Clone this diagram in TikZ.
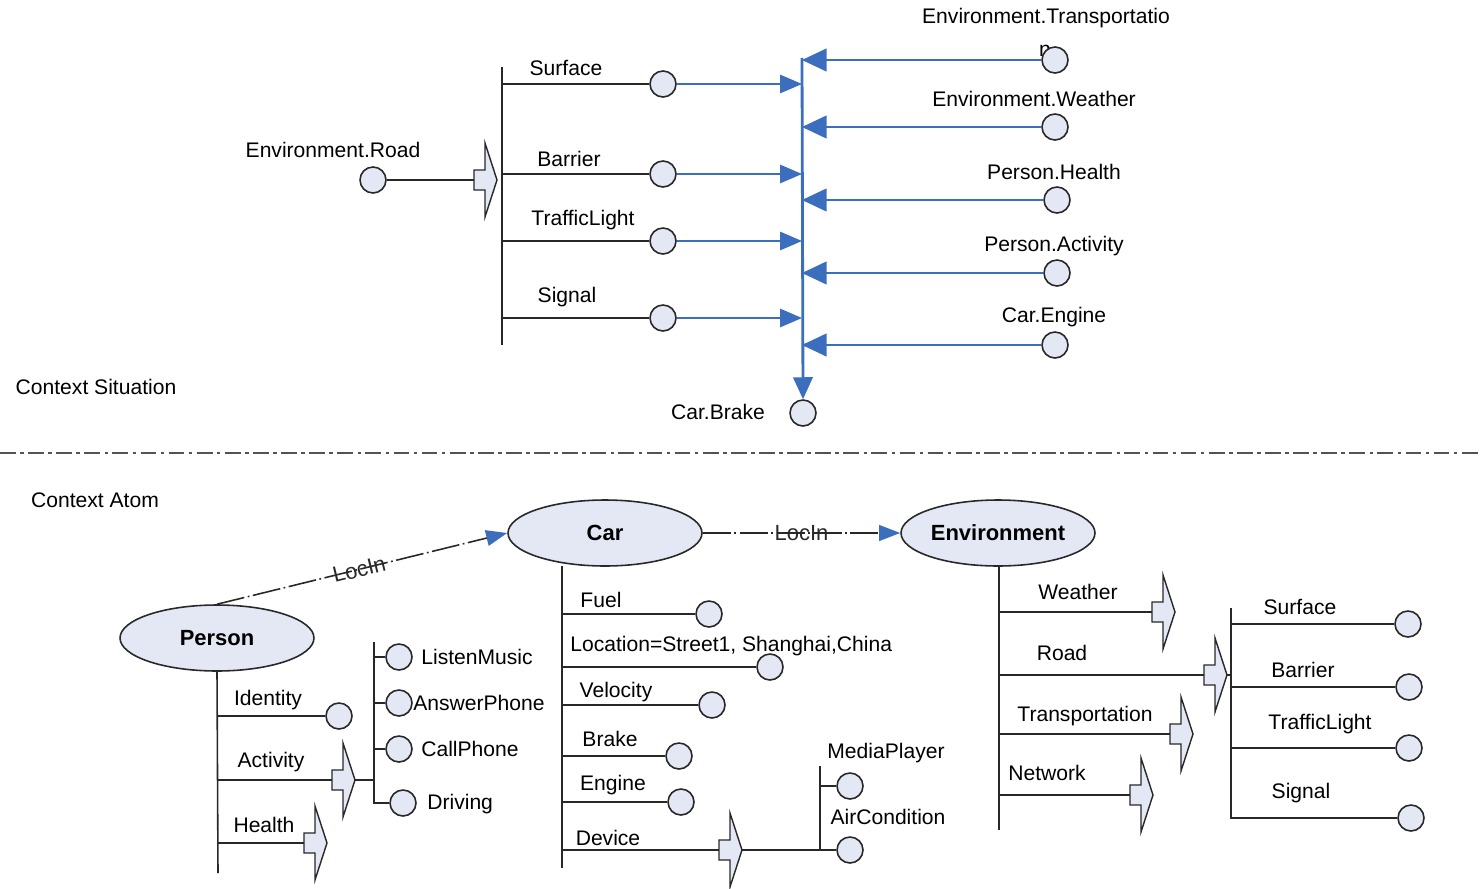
\documentclass[tikz,border=0pt]{standalone}
\usepackage{fontspec}
\setmainfont{Liberation Sans}
\usepackage{tikz}
\usetikzlibrary{positioning,shapes.geometric,arrows.meta}
\definecolor{atomfill}{RGB}{228,232,244}
\definecolor{linkblue}{RGB}{60,110,190}
\definecolor{ink}{RGB}{40,40,40}
\tikzset{
  ctx/.style={circle, draw=ink, fill=atomfill, minimum size=0.52cm, inner sep=0pt, line width=0.9pt},
  atom/.style={ellipse, draw=ink, fill=atomfill, minimum width=3.88cm, minimum height=1.32cm, inner sep=0pt, font=\fontsize{12.5}{14}\selectfont\bfseries, line width=0.9pt},
  lbl/.style={inner sep=0pt, font=\fontsize{12}{14}\selectfont},
  bar/.style={ink, line width=0.9pt},
  feed/.style={linkblue, line width=0.9pt, -{Triangle[length=12.5pt,width=10.5pt]}},
  back/.style={linkblue, line width=0.9pt, -{Triangle[length=14pt,width=13pt]}},
  locin/.style={ink, line width=0.9pt, dash pattern=on 16pt off 2pt on 1pt off 2pt, -{Triangle[length=12pt,width=9pt,color=linkblue]}},
  blockarr/.pic={
    \filldraw[fill=atomfill, draw=ink, line width=0.8pt] (-23,-10) -- (-12,-10) -- (-12,-37) -- (0,0) -- (-12,37) -- (-12,10) -- (-23,10) -- cycle;
    \coordinate (-back) at (-23,0);
    \coordinate (-tip) at (0,0);
  }
}
\begin{document}
\begin{tikzpicture}[x=0.02cm, y=-0.02cm]
 \useasboundingbox (0,0) rectangle (1481,889);
 % context situation
 \node[lbl] (csit) at (96,387) {Context Situation};
 \node[ctx] (road) at (373,180) {};
 \node[lbl] (lroad) at (333,150) {Environment.Road};
 \pic (ra) at (497,180) {blockarr};
 \draw[bar] (road) -- (ra-back);
 \coordinate (rtop) at (502,67);
 \coordinate (rbot) at (502,345);
 \draw[bar] (rtop) -- (rbot);
 \node[ctx] (sf) at (663,84) {};
 \node[ctx] (br) at (663,174) {};
 \node[ctx] (tl) at (663,241) {};
 \node[ctx] (sg) at (663,318) {};
 \draw[bar] (sf -| rtop) -- (sf);
 \draw[bar] (br -| rtop) -- (br);
 \draw[bar] (tl -| rtop) -- (tl);
 \draw[bar] (sg -| rtop) -- (sg);
 \node[lbl] (lsf) at (566,68) {Surface};
 \node[lbl] (lbr) at (569,159) {Barrier};
 \node[lbl] (ltl) at (583,220) {TrafficLight};
 \node[lbl] (lsg) at (567,297) {Signal};
 % blue rule
 \coordinate (vtop) at (802,58);
 \node[ctx] (brake) at (803,413) {};
 \node[lbl] (lbrake) at (718,412) {Car.Brake};
 \draw[linkblue, line width=1.6pt, -{Triangle[length=12.5pt,width=11pt]}] (vtop) -- (brake.north);
 \draw[feed] (sf) -- (sf -| vtop);
 \draw[feed] (br) -- (br -| vtop);
 \draw[feed] (tl) -- (tl -| vtop);
 \draw[feed] (sg) -- (sg -| vtop);
 \node[lbl] (ltrn) at (1045,51) {n};
 \node[ctx] (trn) at (1055,60) {};
 \node[ctx] (wth) at (1055,127) {};
 \node[ctx] (hlt) at (1057,200) {};
 \node[ctx] (act) at (1057,273) {};
 \node[ctx] (eng) at (1055,345) {};
 \draw[back] (trn) -- (trn -| vtop);
 \draw[back] (wth) -- (wth -| vtop);
 \draw[back] (hlt) -- (hlt -| vtop);
 \draw[back] (act) -- (act -| vtop);
 \draw[back] (eng) -- (eng -| vtop);
 \node[lbl] (ltr) at (1046,18) {Environment.Transportatio};
 \node[lbl] (lwth) at (1034,99) {Environment.Weather};
 \node[lbl] (lhlt) at (1054,172) {Person.Health};
 \node[lbl] (lact) at (1054,246) {Person.Activity};
 \node[lbl] (leng) at (1054,317) {Car.Engine};
 % separator
 \coordinate (sepl) at (0,453);
 \coordinate (sepr) at (1481,453);
 \draw[ink!80, line width=1.5pt, dash pattern=on 9pt off 2.5pt on 2pt off 2.5pt] (sepl) -- (sepr);
 % context atom
 \node[lbl] (catom) at (95,500) {Context Atom};
 \node[atom] (person) at (217,638) {Person};
 \node[atom] (car) at (605,533) {Car};
 \node[atom] (env) at (998,533) {Environment};
 \draw[locin] (person.north) -- node[lbl, sloped, pos=0.49, font=\fontsize{12.5}{14}\selectfont] (lloc1) {LocIn} (car.west);
 \draw[locin] (car) -- node[lbl, font=\fontsize{12.5}{14}\selectfont] (lloc2) {LocIn} (env);
 % person
 \coordinate (pend) at (218,873);
 \draw[bar] (person.south) -- (pend);
 \node[ctx] (ident) at (339,716) {};
 \draw[bar] (ident -| person.south) -- (ident);
 \pic (pa) at (355,780) {blockarr};
 \draw[bar] (pa-back -| person.south) -- (pa-back);
 \pic (ph) at (327,843) {blockarr};
 \draw[bar] (ph-back -| person.south) -- (ph-back);
 \node[lbl] (lident) at (268,700) {Identity};
 \node[lbl] (lpact) at (271,762) {Activity};
 \node[lbl] (lphlt) at (264,825) {Health};
 \coordinate (atop) at (374,642);
 \coordinate (abot) at (374,803);
 \node[ctx] (listen) at (399,657) {};
 \node[ctx] (answer) at (399,703) {};
 \node[ctx] (call) at (399,749) {};
 \node[ctx] (drive) at (403,803) {};
 \draw[bar] (atop) -- (abot) -- (drive);
 \draw[bar] (pa-tip) -- (pa-tip -| atop);
 \draw[bar] (listen -| atop) -- (listen);
 \draw[bar] (answer -| atop) -- (answer);
 \draw[bar] (call -| atop) -- (call);
 \node[lbl, anchor=west] (llisten) at (421,657) {ListenMusic};
 \node[lbl, anchor=west] (lanswer) at (413,703) {AnswerPhone};
 \node[lbl, anchor=west] (lcall) at (421,749) {CallPhone};
 \node[lbl, anchor=west] (ldrive) at (427,804) {Driving};
 % car
 \coordinate (ctop) at (562,566);
 \coordinate (cbot) at (562,868);
 \draw[bar] (ctop) -- (cbot);
 \node[ctx] (fuel) at (709,614) {};
 \node[ctx] (loc) at (770,667) {};
 \node[ctx] (velo) at (712,705) {};
 \node[ctx] (cbrk) at (679,756) {};
 \node[ctx] (ceng) at (681,802) {};
 \draw[bar] (fuel -| ctop) -- (fuel);
 \draw[bar] (loc -| ctop) -- (loc);
 \draw[bar] (velo -| ctop) -- (velo);
 \draw[bar] (cbrk -| ctop) -- (cbrk);
 \draw[bar] (ceng -| ctop) -- (ceng);
 \pic (dv) at (742,850) {blockarr};
 \draw[bar] (dv-back -| ctop) -- (dv-back);
 \node[lbl] (lfuel) at (601,600) {Fuel};
 \node[lbl, anchor=west] (lloc) at (570,646) {Location=Street1, Shanghai,China};
 \node[lbl] (lvelo) at (616,692) {Velocity};
 \node[lbl] (lcbrk) at (610,739) {Brake};
 \node[lbl] (lceng) at (613,785) {Engine};
 \node[lbl] (ldev) at (608,838) {Device};
 \coordinate (dtop) at (820,766);
 \coordinate (dbot) at (820,850);
 \node[ctx] (media) at (850,786) {};
 \node[ctx] (aircon) at (850,850) {};
 \draw[bar] (dtop) -- (dbot);
 \draw[bar] (dv-tip) -- (aircon);
 \draw[bar] (media -| dtop) -- (media);
 \node[lbl] (lmedia) at (886,753) {MediaPlayer};
 \node[lbl] (laircon) at (888,817) {AirCondition};
 % environment
 \coordinate (etop) at (999,566);
 \coordinate (ebot) at (999,830);
 \draw[bar] (etop) -- (ebot);
 \pic (ew) at (1175,612) {blockarr};
 \pic (er) at (1227,675) {blockarr};
 \pic (et) at (1193,734) {blockarr};
 \pic (en) at (1153,795) {blockarr};
 \draw[bar] (ew-back -| etop) -- (ew-back);
 \draw[bar] (er-back -| etop) -- (er-back);
 \draw[bar] (et-back -| etop) -- (et-back);
 \draw[bar] (en-back -| etop) -- (en-back);
 \node[lbl] (lew) at (1078,592) {Weather};
 \node[lbl] (ler) at (1062,653) {Road};
 \node[lbl] (let) at (1085,716) {Transportation};
 \node[lbl] (len) at (1047,773) {Network};
 \coordinate (rrtop) at (1231,608);
 \coordinate (rrbot) at (1231,819);
 \draw[bar] (rrtop) -- (rrbot);
 \draw[bar] (er-tip) -- (er-tip -| rrtop);
 \node[ctx] (rsf) at (1408,624) {};
 \node[ctx] (rbr) at (1409,687) {};
 \node[ctx] (rtl) at (1409,748) {};
 \node[ctx] (rsg) at (1411,818) {};
 \draw[bar] (rsf -| rrtop) -- (rsf);
 \draw[bar] (rbr -| rrtop) -- (rbr);
 \draw[bar] (rtl -| rrtop) -- (rtl);
 \draw[bar] (rsg -| rrtop) -- (rsg);
 \node[lbl] (lrsf) at (1300,607) {Surface};
 \node[lbl] (lrbr) at (1303,670) {Barrier};
 \node[lbl] (lrtl) at (1320,724) {TrafficLight};
 \node[lbl] (lrsg) at (1301,793) {Signal};
\end{tikzpicture}
\end{document}
